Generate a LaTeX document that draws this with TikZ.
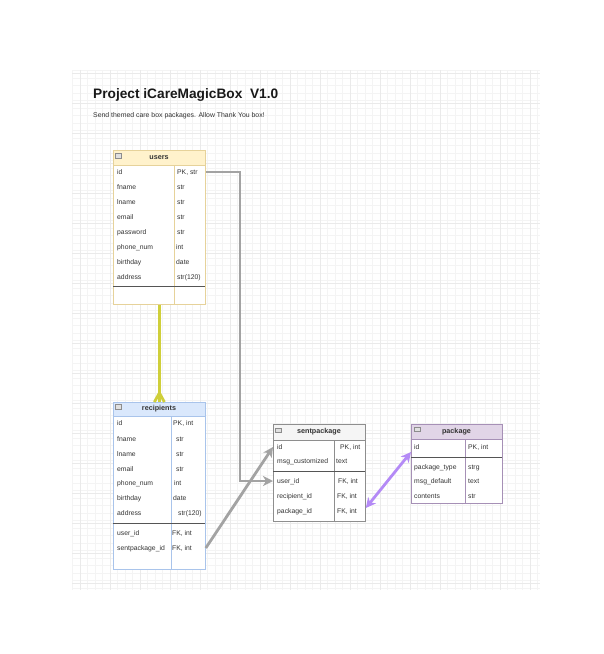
\documentclass[tikz,border=0pt]{standalone}
\usepackage{fontspec}
\setmainfont{Liberation Sans}
\usetikzlibrary{arrows.meta}
\definecolor{gridminor}{HTML}{F4F4F4}
\definecolor{gridmajor}{HTML}{EAEAEA}
\definecolor{uFill}{HTML}{FFF2CC}
\definecolor{uLine}{HTML}{E6D29A}
\definecolor{rFill}{HTML}{DAE8FC}
\definecolor{rLine}{HTML}{A9C4EB}
\definecolor{sFill}{HTML}{F5F5F5}
\definecolor{sLine}{HTML}{8E8E8E}
\definecolor{pFill}{HTML}{E1D5E7}
\definecolor{pLine}{HTML}{A690B6}
\definecolor{conn}{HTML}{A3A3A3}
\definecolor{yel}{HTML}{CFCF3A}
\definecolor{purp}{HTML}{B48AF6}
\definecolor{txt}{HTML}{333333}
\definecolor{sepc}{HTML}{555555}
\newcommand{\ERrow}[6]{\node[cell] (#1n) at (#3,#2) {#4}; \node[cell] (#1t) at (#5,#2) {#6};}
\begin{document}
\begin{tikzpicture}[x=1pt,y=-1pt,
  cell/.style={anchor=west,inner sep=0pt,text height=4.9pt,text depth=0pt,font=\fontsize{6.8}{8}\selectfont,text=txt},
  hdr/.style={inner sep=0pt,font=\fontsize{7.2}{8}\selectfont\bfseries,text=txt},
  tbl/.style={anchor=north west,inner sep=0pt,fill=white,line width=0.8pt},
  icon/.style={draw=black!45,fill=black!12,minimum width=5.5pt,minimum height=4.5pt,inner sep=0pt,line width=0.4pt},
  sep/.style={draw=sepc,line width=0.9pt},
  connG/.style={draw=conn,line width=2.8pt,-{Stealth[length=10pt,width=10pt,inset=3pt]}},
  yelL/.style={draw=yel,line width=2.8pt},
  purpL/.style={draw=purp,line width=2.8pt,{Stealth[length=10pt,width=10pt,inset=3pt]}-{Stealth[length=10pt,width=10pt,inset=3pt]}}
]
\useasboundingbox (0,0) rectangle (604,654);
\fill[white] (0,0) rectangle (604,654);
% grid
\foreach \i in {0,...,62} {
  \draw[gridminor,line width=0.5pt] (72.5+7.5*\i,70) -- (72.5+7.5*\i,590);
}
\foreach \j in {0,...,69} {
  \draw[gridminor,line width=0.5pt] (72,70.5+7.5*\j) -- (540,70.5+7.5*\j);
}
\foreach \i in {0,...,15} {
  \draw[gridmajor,line width=0.6pt] (80+30*\i,70) -- (80+30*\i,590);
}
\foreach \j in {0,...,17} {
  \draw[gridmajor,line width=0.6pt] (72,73+30*\j) -- (540,73+30*\j);
}
% title
\node[anchor=base west,inner sep=0pt,font=\fontsize{13.7}{15}\selectfont\bfseries,text=black!90] (title) at (93,98) {Project iCareMagicBox~ V1.0};
\node[anchor=base west,inner sep=0pt,font=\fontsize{6.9}{8}\selectfont,text=txt] (subtitle) at (93,117.5) {Send themed care box packages. Allow Thank You box!};

% ---------- users ----------
\node[tbl,draw=uLine,minimum width=92pt,minimum height=154pt] (users) at (113,150) {};
\fill[uFill] (113,150) rectangle (205,165);
\draw[uLine,line width=0.8pt] (113,165) -- (205,165) (174,165) -- (174,304);
\draw[uLine,line width=0.8pt] (users.north west) rectangle (users.south east);
\draw[sep] (113,286) -- (205,286);
\node[icon] (usersI) at (118,155.5) {};
\node[hdr] (usersT) at (159,157.5) {users};
\ERrow{uId}{172}{117}{id}{177}{PK, str}
\ERrow{uFn}{187}{117}{fname}{177}{str}
\ERrow{uLn}{202}{117}{lname}{177}{str}
\ERrow{uEm}{217}{117}{email}{177}{str}
\ERrow{uPw}{232}{117}{password}{177}{str}
\ERrow{uPh}{247}{117}{phone\_num}{176}{int}
\ERrow{uBd}{262}{117}{birthday}{176}{date}
\ERrow{uAd}{277}{117}{address}{177}{str(120)}

% ---------- recipients ----------
\node[tbl,draw=rLine,minimum width=92pt,minimum height=167pt] (rec) at (113,402) {};
\fill[rFill] (113,402) rectangle (205,416);
\draw[rLine,line width=0.8pt] (113,416) -- (205,416) (171,416) -- (171,569);
\draw[rLine,line width=0.8pt] (rec.north west) rectangle (rec.south east);
\draw[sep] (113,523) -- (205,523);
\node[icon] (recI) at (118,406.5) {};
\node[hdr] (recT) at (159,409) {recipients};
\ERrow{rId}{423}{117}{id}{173}{PK, int}
\ERrow{rFn}{439}{117}{fname}{176}{str}
\ERrow{rLn}{454}{117}{lname}{176}{str}
\ERrow{rEm}{469}{117}{email}{176}{str}
\ERrow{rPh}{483}{117}{phone\_num}{174}{int}
\ERrow{rBd}{498}{117}{birthday}{173}{date}
\ERrow{rAd}{513}{117}{address}{178}{str(120)}
\ERrow{rUs}{533}{117}{user\_id}{172}{FK, int}
\ERrow{rSp}{548}{117}{sentpackage\_id}{172}{FK, int}

% ---------- sentpackage ----------
\node[tbl,draw=sLine,minimum width=92pt,minimum height=97pt] (sp) at (273,424) {};
\fill[sFill] (273,424) rectangle (365,440);
\draw[sLine,line width=0.8pt] (273,440) -- (365,440) (334,440) -- (334,521);
\draw[sLine,line width=0.8pt] (sp.north west) rectangle (sp.south east);
\draw[sep] (273,471) -- (365,471);
\node[icon] (spI) at (278,430) {};
\node[hdr] (spT) at (319,432) {sentpackage};
\ERrow{sId}{447}{277}{id}{340}{PK, int}
\ERrow{sMc}{461}{277}{msg\_customized}{336}{text}
\ERrow{sUs}{481}{277}{user\_id}{338}{FK, int}
\ERrow{sRc}{496}{277}{recipient\_id}{337}{FK, int}
\ERrow{sPk}{511}{277}{package\_id}{337}{FK, int}

% ---------- package ----------
\node[tbl,draw=pLine,minimum width=91pt,minimum height=79pt] (pk) at (411,424) {};
\fill[pFill] (411,424) rectangle (502,439);
\draw[pLine,line width=0.8pt] (411,439) -- (502,439) (465,439) -- (465,503);
\draw[pLine,line width=0.8pt] (pk.north west) rectangle (pk.south east);
\draw[sep] (411,457) -- (502,457);
\node[icon] (pkI) at (417,429) {};
\node[hdr] (pkT) at (456.5,431.5) {package};
\ERrow{pId}{447}{414}{id}{468}{PK, int}
\ERrow{pTy}{467}{414}{package\_type}{468}{strg}
\ERrow{pMd}{481}{414}{msg\_default}{468}{text}
\ERrow{pCo}{496}{414}{contents}{468}{str}

% ---------- connectors ----------
\coordinate (bend) at (240,481);
\draw[connG] (users.east |- uIdn) -| (bend) -- (sp.west |- sUsn);
\draw[connG] (rec.east |- rSpn) -- (sp.west |- sIdn);
\draw[yelL] (users.south) -- (rec.north);
\coordinate (cf) at ([yshift=9pt]rec.north);
\draw[yelL,line join=round] ([xshift=-5pt]rec.north) -- (cf) -- ([xshift=5pt]rec.north);
\draw[purpL] ([yshift=3pt]sp.east |- sPkn) -- ([yshift=-5pt]pk.west |- pIdn);
\end{tikzpicture}
\end{document}
